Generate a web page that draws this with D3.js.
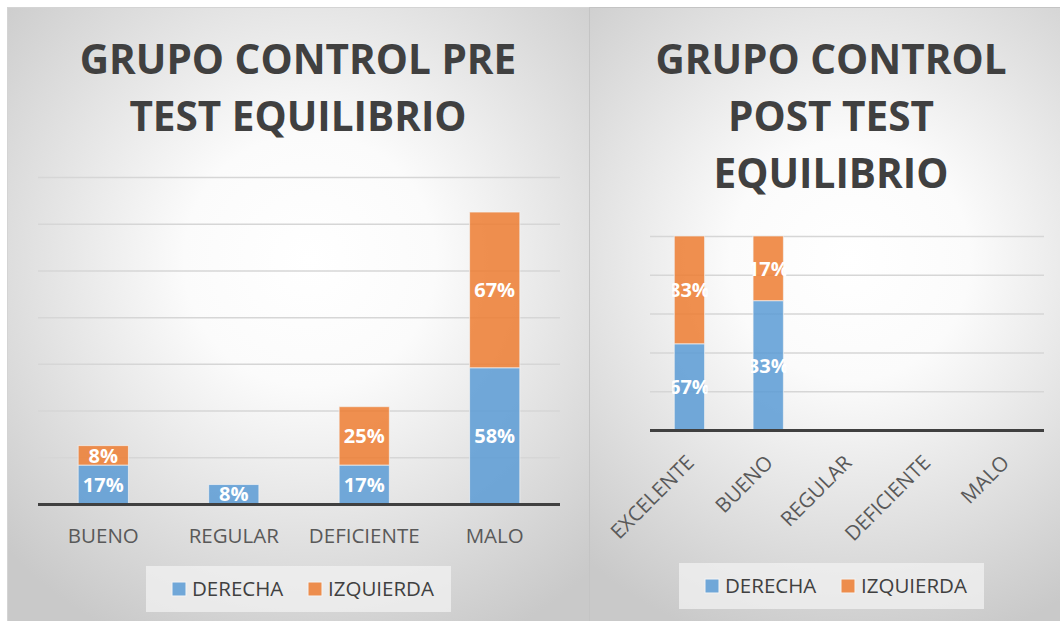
<!DOCTYPE html>
<head>
    <meta charset="utf-8">
    <title>Grupo control equilibrio</title>
    <style>
        body { margin: 0; background: #fff; }
        text { font-family: "Open Sans", sans-serif; }
    </style>
</head>

<script src="https://d3js.org/d3.v7.min.js"></script>

<div id="my_dataviz"></div>

<script>

    // data
    var seriesNames = ["DERECHA", "IZQUIERDA"];
    var seriesColors = ["#5b9bd5", "#ed7d31"];

    var preCategories = ["BUENO", "REGULAR", "DEFICIENTE", "MALO"];
    var preDerecha = [16.67, 8.33, 16.67, 58.33];
    var preIzquierda = [8.33, 0, 25, 66.67];
    var preTicks = [0, 20, 40, 60, 80, 100, 120, 140];

    var postCategories = ["EXCELENTE", "BUENO", "REGULAR", "DEFICIENTE", "MALO"];
    var postDerecha = [66.67, 33.33, 0, 0, 0];
    var postIzquierda = [83.33, 16.67, 0, 0, 0];
    var postTicks = [0, 0.2, 0.4, 0.6, 0.8, 1];

    var W = 1060, H = 621;

    var svg = d3.select("#my_dataviz")
      .append("svg")
      .attr("width", W)
      .attr("height", H)
      .style("display", "block")

    var defs = svg.append("defs")

    // radial background of each panel
    function bgGradient(id, cx, cy, r) {
      var g = defs.append("radialGradient")
        .attr("id", id)
        .attr("gradientUnits", "userSpaceOnUse")
        .attr("cx", cx).attr("cy", cy).attr("r", r)
      g.append("stop").attr("offset", 0).attr("stop-color", "#ffffff")
      g.append("stop").attr("offset", 0.3).attr("stop-color", "#fbfbfb")
      g.append("stop").attr("offset", 1).attr("stop-color", "#c9c9c9")
    }
    bgGradient("bgLeft", 310, 260, 420)
    bgGradient("bgRight", 850, 260, 400)

    // grid lines get a bit darker lower down
    function gridGradient(id, y0, y1) {
      var g = defs.append("linearGradient")
        .attr("id", id)
        .attr("gradientUnits", "userSpaceOnUse")
        .attr("x1", 0).attr("x2", 0).attr("y1", y0).attr("y2", y1)
      g.append("stop").attr("offset", 0).attr("stop-color", "#d6d6d6")
      g.append("stop").attr("offset", 1).attr("stop-color", "#8a8a8a")
    }
    gridGradient("gridLeft", 177, 504)
    gridGradient("gridRight", 236, 430)

    svg.append("rect")
      .attr("x", 7.5).attr("y", 7.5)
      .attr("width", 582).attr("height", 620)
      .style("fill", "url(#bgLeft)")
      .style("stroke", "#d4d4d4")

    svg.append("rect")
      .attr("x", 589.5).attr("y", 7.5)
      .attr("width", 480).attr("height", 620)
      .style("fill", "url(#bgRight)")
      .style("stroke", "#c4c4c4")

    function drawChart(opt) {
      var g = svg.append("g")

      // title
      g.append("text")
        .attr("text-anchor", "middle")
        .style("font-size", "40.5px")
        .style("font-weight", 700)
        .style("fill", "#404040")
        .selectAll("tspan")
        .data(opt.title)
        .enter()
        .append("tspan")
          .attr("x", opt.titleX)
          .attr("y", function (d, i) { return opt.titleY + i * 57; })
          .text(function (d) { return d; })

      var x = d3.scaleBand()
        .domain(opt.categories)
        .range([opt.left, opt.right])
        .paddingInner(0.615)
        .paddingOuter(0.308)

      var y = d3.scaleLinear()
        .domain([0, opt.ticks[opt.ticks.length - 1]])
        .range([opt.bottom, opt.top])

      // gridlines
      g.append("g")
        .attr("transform", "translate(" + opt.left + ",0)")
        .call(d3.axisLeft(y).tickValues(opt.ticks).tickSize(-(opt.right - opt.left)).tickFormat(""))
        .call(function (a) { a.select(".domain").remove(); })
        .selectAll(".tick line")
          .attr("stroke", "url(#" + opt.gridId + ")")
          .attr("stroke-width", 1.5)

      var rows = opt.categories.map(function (c, i) {
        return { cat: c, DERECHA: opt.derecha[i], IZQUIERDA: opt.izquierda[i] };
      })
      var stack = d3.stack().keys(seriesNames)
      if (opt.expand) stack.offset(d3.stackOffsetExpand)
      var stacked = stack(rows)

      var layer = g.selectAll(".layer")
        .data(stacked)
        .enter()
        .append("g")
          .style("fill", function (d, i) { return seriesColors[i]; })
          .style("fill-opacity", 0.85)

      layer.selectAll("rect")
        .data(function (d) { return d.filter(function (p) { return p[1] - p[0] > 0; }); })
        .enter()
        .append("rect")
          .attr("x", function (d) { return x(d.data.cat); })
          .attr("width", x.bandwidth())
          .attr("y", function (d) { return y(d[1]); })
          .attr("height", function (d) { return y(d[0]) - y(d[1]); })
          .style("stroke", "#f4f4f4")
          .style("stroke-opacity", 0.7)
          .style("stroke-width", 1)

      // data labels
      stacked.forEach(function (s, si) {
        s.forEach(function (p, ci) {
          var raw = si === 0 ? opt.derecha[ci] : opt.izquierda[ci];
          if (!raw) return;
          var cx = x(p.data.cat) + x.bandwidth() / 2;
          var lbl = g.append("text")
            .attr("x", cx)
            .attr("y", (y(p[0]) + y(p[1])) / 2)
            .attr("dy", "0.36em")
            .attr("text-anchor", "middle")
            .style("font-size", "20px")
            .style("font-weight", 700)
            .style("fill", "#ffffff")
            .text(Math.round(raw) + "%")
          if (opt.clipLabels) {
            var id = "clip" + si + "_" + ci;
            defs.append("clipPath").attr("id", id)
              .append("rect")
                .attr("x", x(p.data.cat) - 2)
                .attr("width", x.bandwidth() + 5)
                .attr("y", 0).attr("height", H)
            lbl.attr("clip-path", "url(#" + id + ")")
          }
        })
      })

      // baseline
      g.append("line")
        .attr("x1", opt.left).attr("x2", opt.right)
        .attr("y1", opt.bottom + 0.5).attr("y2", opt.bottom + 0.5)
        .attr("stroke", "#404040")
        .attr("stroke-width", 3)

      // category labels
      var xl = g.append("g")
        .selectAll("text")
        .data(opt.categories)
        .enter()
        .append("text")
          .style("font-size", "20.5px")
          .style("fill", "#595959")
          .text(function (d) { return d; })
      if (opt.rotate) {
        xl.attr("text-anchor", "end")
          .attr("transform", function (d) {
            return "translate(" + (x(d) + x.bandwidth() / 2 + 6) + "," + (opt.bottom + 34) + ") rotate(-45)";
          })
      } else {
        xl.attr("text-anchor", "middle")
          .attr("x", function (d) { return x(d) + x.bandwidth() / 2; })
          .attr("y", opt.bottom + 39)
      }

      // legend
      var lg = g.append("g")
      lg.append("rect")
        .attr("x", opt.legend.x).attr("y", opt.legend.y)
        .attr("width", opt.legend.w).attr("height", 46)
        .style("fill", "#f2f2f2")
        .style("fill-opacity", 0.75)
      seriesNames.forEach(function (s, i) {
        var lx = opt.legend.x + 26 + i * 136;
        lg.append("rect")
          .attr("x", lx).attr("y", opt.legend.y + 16)
          .attr("width", 14).attr("height", 14)
          .style("fill", seriesColors[i])
          .style("fill-opacity", 0.85)
          .style("stroke", "#f4f4f4")
        lg.append("text")
          .attr("x", lx + 20)
          .attr("y", opt.legend.y + 23)
          .attr("dy", "0.36em")
          .style("font-size", "20.5px")
          .style("fill", "#404040")
          .text(s)
      })
    }

    drawChart({
      title: ["GRUPO CONTROL PRE", "TEST EQUILIBRIO"],
      titleX: 298, titleY: 74,
      categories: preCategories,
      derecha: preDerecha, izquierda: preIzquierda,
      ticks: preTicks,
      left: 38, right: 560, top: 177, bottom: 504,
      gridId: "gridLeft",
      expand: false, rotate: false, clipLabels: false,
      legend: { x: 146, y: 566, w: 305 }
    })

    drawChart({
      title: ["GRUPO CONTROL", "POST TEST", "EQUILIBRIO"],
      titleX: 831, titleY: 74,
      categories: postCategories,
      derecha: postDerecha, izquierda: postIzquierda,
      ticks: postTicks,
      left: 650, right: 1044, top: 236, bottom: 430,
      gridId: "gridRight",
      expand: true, rotate: true, clipLabels: true,
      legend: { x: 679, y: 563, w: 305 }
    })

</script>
